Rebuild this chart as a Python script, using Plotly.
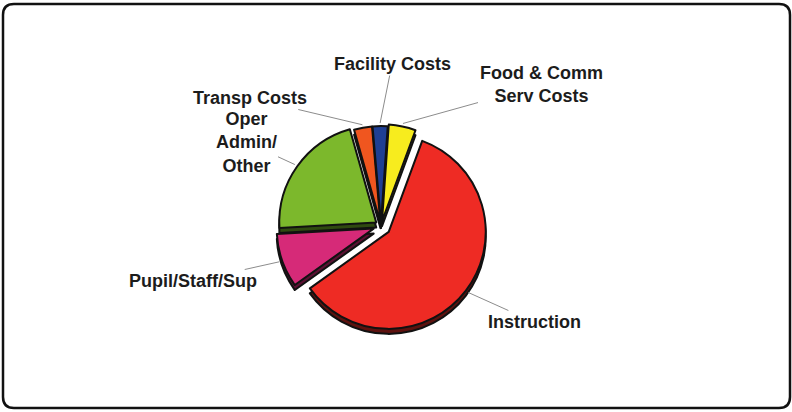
import math
import plotly.graph_objects as go

# ---- data ----
labels = ["Food & Comm<br>Serv Costs", "Instruction", "Pupil/Staff/Sup",
          "Oper<br>Admin/<br>Other", "Transp Costs", "Facility Costs"]
values = [4.5, 59.5, 9.0, 21.5, 3.0, 2.5]

# ---- styling ----
colors = ["#f7ec1e", "#ee2b24", "#d62a78", "#7cb82c", "#f0561f", "#1f3f93"]
shade = ["#7a7410", "#5e120f", "#5a1032", "#2f4a10", "#6a260c", "#0d1c45"]
pulls = [0.05, 0.10, 0.08, 0.06, 0.03, 0.03]
start_angle = 4

W, H = 792, 412
CX, CY = 381, 226      # pie centre (px)
R = 97                 # pie radius (px)
SHADOW = 5             # 3D depth (px)

# text centre positions (px) for each label, in the order of `labels`
label_pos = [(541, 85), (534, 322), (193, 281), (246, 142), (250, 98), (392, 64)]


def px(x):
    return x / W


def py(y):
    return 1 - y / H


maxp = max(pulls)
half = R * (1 + maxp)

fig = go.Figure()

# shadow (3D edge) pie
fig.add_trace(go.Pie(
    labels=labels, values=values, sort=False, direction="clockwise",
    rotation=start_angle, pull=pulls, textinfo="none", hoverinfo="skip",
    marker=dict(colors=shade, line=dict(color="#111111", width=2)),
    domain=dict(x=[px(CX - half), px(CX + half)],
                y=[py(CY + SHADOW + half), py(CY + SHADOW - half)]),
    showlegend=False,
))

# main pie
fig.add_trace(go.Pie(
    labels=labels, values=values, sort=False, direction="clockwise",
    rotation=start_angle, pull=pulls, textinfo="none",
    marker=dict(colors=colors, line=dict(color="#111111", width=2)),
    domain=dict(x=[px(CX - half), px(CX + half)],
                y=[py(CY + half), py(CY - half)]),
    showlegend=False,
))

# leader-line labels, arrow heads placed at each slice's mid-angle edge
total = sum(values)
annotations = []
acc = 0.0
for i, v in enumerate(values):
    mid = start_angle + (acc + v / 2) / total * 360
    acc += v
    rad = math.radians(mid)
    rr = R * (1 + pulls[i]) + 3
    hx = CX + rr * math.sin(rad)
    hy = CY - rr * math.cos(rad)
    tx, ty = label_pos[i]
    annotations.append(dict(
        x=px(hx), y=py(hy), xref="paper", yref="paper",
        ax=tx - hx, ay=ty - hy, axref="pixel", ayref="pixel",
        text=labels[i], showarrow=True, arrowhead=0, arrowwidth=1,
        arrowcolor="#8c8c8c", standoff=0, startstandoff=0,
        font=dict(family="Liberation Sans, Arial, sans-serif", size=18,
                  color="#1c1c1c", weight="bold"),
        align="center",
    ))

# rounded border
x0, y0, x1, y1, r = 3, 4, 790, 408, 11
path = (f"M {px(x0 + r)} {py(y0)} L {px(x1 - r)} {py(y0)} "
        f"Q {px(x1)} {py(y0)} {px(x1)} {py(y0 + r)} "
        f"L {px(x1)} {py(y1 - r)} Q {px(x1)} {py(y1)} {px(x1 - r)} {py(y1)} "
        f"L {px(x0 + r)} {py(y1)} Q {px(x0)} {py(y1)} {px(x0)} {py(y1 - r)} "
        f"L {px(x0)} {py(y0 + r)} Q {px(x0)} {py(y0)} {px(x0 + r)} {py(y0)} Z")

fig.update_layout(
    width=W, height=H, margin=dict(l=0, r=0, t=0, b=0),
    paper_bgcolor="white", plot_bgcolor="white",
    annotations=annotations,
    shapes=[dict(type="path", path=path, xref="paper", yref="paper",
                 line=dict(color="#111111", width=2.5))],
)

fig.write_html("out.html")
